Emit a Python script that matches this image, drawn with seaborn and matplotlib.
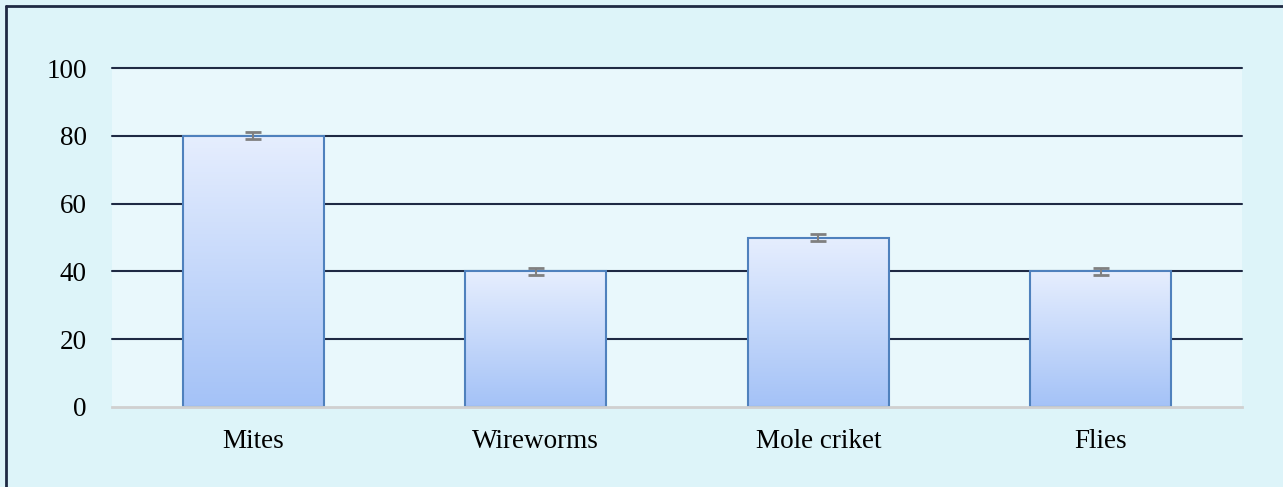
import numpy as np
import pandas as pd
import matplotlib
matplotlib.use("Agg")
import matplotlib.pyplot as plt
import seaborn as sns
from matplotlib.colors import LinearSegmentedColormap
from matplotlib.lines import Line2D

categories = ["Mites", "Wireworms", "Mole criket", "Flies"]
values = [80, 40, 50, 40]
errors = [1, 1, 1, 1]
yticks = [0, 20, 40, 60, 80, 100]

df = pd.DataFrame({"pest": categories, "value": values})

sns.set_theme(style="white")
plt.rcParams['font.family'] = ['Liberation Serif', 'DejaVu Serif']

fig = plt.figure(figsize=(12.83, 4.87), dpi=100)
fig.patch.set_facecolor("#DDF4F9")
ax = fig.add_axes([112/1283, 1-407/487, (1242-112)/1283, (407-68)/487])
ax.set_facecolor("#E9F8FC")

sns.barplot(data=df, x="pest", y="value", ax=ax, width=0.5, color="#C5D8FB",
            edgecolor="#4F81BD", linewidth=1.5, errorbar=None, zorder=3)

ax.set_ylim(0, 100)
ax.set_yticks(yticks)
ax.set_xlim(-0.5, 3.5)

# gradient fill
cmap = LinearSegmentedColormap.from_list("g", ["#A4C2F7", "#E6EEFE"])
grad = np.linspace(0, 1, 256).reshape(-1, 1)
for p in ax.patches:
    x0, y0 = p.get_x(), p.get_y()
    w, h = p.get_width(), p.get_height()
    im = ax.imshow(grad, extent=[x0, x0 + w, y0, y0 + h], origin="lower",
                   cmap=cmap, aspect="auto", zorder=3.5)
    im.set_clip_path(p)
    p.set_facecolor("none")
    p.set_zorder(4)

ax.errorbar(x=np.arange(len(categories)), y=values, yerr=errors, fmt="none",
            ecolor="#808080", elinewidth=1.5, capsize=6, capthick=2, zorder=5)

ax.set_aspect("auto")
ax.grid(False)
for yv in yticks[1:]:
    ax.axhline(yv, color="#1F2A44", linewidth=1.5, zorder=2, clip_on=False)

for s in ["top", "right", "left"]:
    ax.spines[s].set_visible(False)
ax.spines["bottom"].set_color("#D0D0D0")
ax.spines["bottom"].set_linewidth(2)
ax.spines["bottom"].set_zorder(6)

ax.set_xlabel("")
ax.set_ylabel("")
ax.tick_params(axis="both", length=0, labelsize=19.5, colors="black")
ax.tick_params(axis="y", pad=18)
ax.tick_params(axis="x", pad=16)

# outer border
fig.add_artist(Line2D([6/1283, 6/1283], [0, 1-6/487], transform=fig.transFigure,
                      color="#1F2A44", linewidth=2))
fig.add_artist(Line2D([6/1283, 1], [1-6/487, 1-6/487], transform=fig.transFigure,
                      color="#1F2A44", linewidth=2))

fig.savefig("out.png", dpi=100, facecolor=fig.get_facecolor())
